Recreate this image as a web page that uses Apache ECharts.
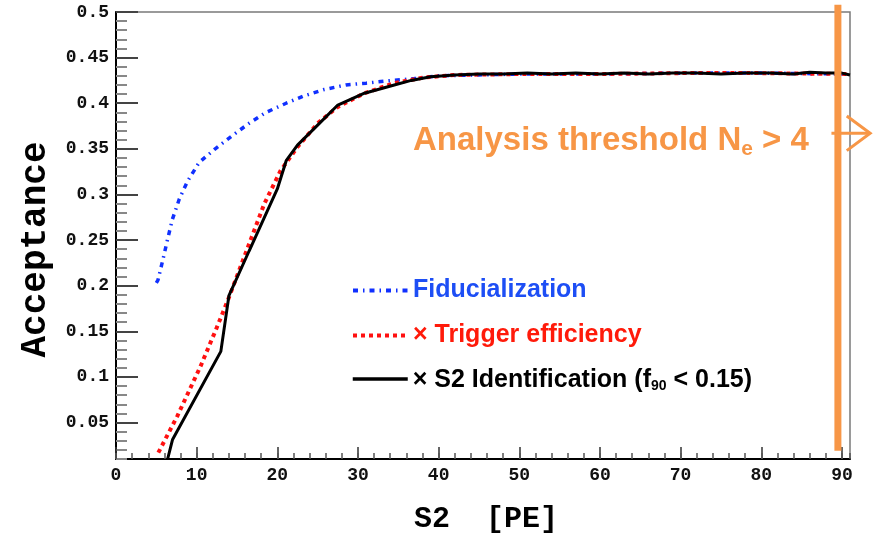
<!DOCTYPE html>
<html><head><meta charset="utf-8">
<script src="https://cdn.jsdelivr.net/npm/echarts@6/dist/echarts.min.js"></script>
<style>html,body{margin:0;padding:0;background:#fff}#c{width:873px;height:539px}</style>
</head><body><div id="c"></div>
<script>
// ---- data ----
const fiducialization = [[5.0,0.203],[5.2,0.206],[5.8,0.228],[6.4,0.251],[7.0,0.273],[7.85,0.295],[8.9,0.315],[10.3,0.335],[12.3,0.35],[14.5,0.365],[16.5,0.378],[18.6,0.39],[21.1,0.40],[23.3,0.408],[25.8,0.415],[28.5,0.42],[31,0.422],[33.7,0.4245],[37,0.427],[40,0.43],[45,0.431],[50,0.432],[60,0.432],[70,0.433],[80,0.433],[91,0.432]];
const triggerEfficiency = [[5.25,0.017],[7.6,0.057],[10.5,0.112],[12.4,0.152],[14.0,0.187],[16.0,0.234],[18.4,0.29],[20.4,0.326],[22.5,0.352],[25,0.378],[27.5,0.396],[30.8,0.411],[34.5,0.422],[38,0.428],[42,0.431],[50,0.432],[60,0.432],[70,0.433],[80,0.433],[91,0.432]];
const s2Identification = [[6.4,0.01],[7.0,0.031],[13.0,0.128],[14.0,0.189],[16.5,0.238],[20.0,0.306],[21.1,0.337],[22.5,0.354],[25,0.376],[27.5,0.398],[30.8,0.411],[34.5,0.42],[36.6,0.425],[39,0.429],[42,0.431],[45,0.432],[48,0.432],[51,0.433],[54,0.432],[57,0.433],[60,0.432],[63,0.433],[66,0.432],[69,0.433],[72,0.433],[75,0.432],[78,0.433],[81,0.433],[84,0.432],[86,0.434],[88,0.433],[90,0.433],[91,0.431]];
const thresholdLine = [[89.5,0.508],[89.5,0.019]];
const arrowShaft = [[88.7,0.367],[93.5,0.367]];
const arrowHead = [[90.6,0.386],[93.5,0.367],[90.6,0.348]];
const xMajorTicks = [0,10,20,30,40,50,60,70,80,90];
const yMajorTicks = [0.05,0.1,0.15,0.2,0.25,0.3,0.35,0.4,0.45,0.5];
const seriesNames = ['Fiducialization','× Trigger efficiency','× S2 Identification'];

const ORANGE = '#f79646';
const mono = 'Liberation Mono';
const sans = 'Liberation Sans';

const chart = echarts.init(document.getElementById('c'), null, {renderer:'canvas'});
const legendBase = {orient:'vertical', itemWidth:55, itemHeight:14, selectedMode:false,
  itemStyle:{opacity:0},
  textStyle:{fontSize:25, fontWeight:'bold', fontFamily:sans}};

function polyItem(points, width){
  return (params, api) => ({
    type:'polyline',
    shape:{points: points.map(p => api.coord(p))},
    style:{stroke:ORANGE, lineWidth:width, fill:null, lineJoin:'miter'}
  });
}

chart.setOption({
  animation:false,
  backgroundColor:'#fff',
  title:{
    text:'{a|Analysis threshold N}{s|e}{a| > 4}',
    left:408, top:116,
    textStyle:{rich:{
      a:{fontSize:33, fontWeight:'bold', fontFamily:sans, color:ORANGE, lineHeight:40},
      s:{fontSize:21, fontWeight:'bold', fontFamily:sans, color:ORANGE, lineHeight:22, padding:[16,0,0,0]}
    }}
  },
  legend:[
    Object.assign({}, legendBase, {data:[seriesNames[0]], left:346, top:273,
      lineStyle:{width:4, type:[5,5,1.5,5]},
      textStyle:Object.assign({}, legendBase.textStyle, {color:'#1d4ef5'})}),
    Object.assign({}, legendBase, {data:[seriesNames[1]], left:346, top:318,
      lineStyle:{width:4, type:[4,4]},
      textStyle:Object.assign({}, legendBase.textStyle, {color:'#ff1a0a'})}),
    Object.assign({}, legendBase, {data:[seriesNames[2]], left:346, top:363,
      lineStyle:{width:3.5},
      formatter: () => '{m|× S2 Identification (f}{s|90}{m| < 0.15)}',
      textStyle:{rich:{
        m:{fontSize:25, fontWeight:'bold', fontFamily:sans, color:'#000', lineHeight:28, verticalAlign:'bottom'},
        s:{fontSize:14, fontWeight:'bold', fontFamily:sans, color:'#000', lineHeight:10, verticalAlign:'bottom'}
      }}})
  ],
  grid:{left:116, right:23, top:12, bottom:80, show:true, borderColor:'#7a7a7a', borderWidth:1.5, containLabel:false},
  xAxis:[
    {type:'value', min:0, max:91, position:'bottom',
      name:'S2  [PE]', nameLocation:'middle', nameGap:45,
      nameTextStyle:{fontSize:30, fontWeight:'bold', fontFamily:mono, color:'#000', padding:[0,0,0,6]},
      axisLine:{show:true, onZero:false, lineStyle:{color:'#000', width:2}},
      axisTick:{show:true, inside:true, length:12, customValues:xMajorTicks, lineStyle:{color:'#333', width:1.5}},
      axisLabel:{show:true, customValues:xMajorTicks, margin:7, fontSize:18, fontWeight:'bold', fontFamily:mono, color:'#111'},
      splitLine:{show:false}},
    {type:'value', min:0, max:91, interval:2, position:'bottom',
      axisLine:{show:false}, axisLabel:{show:false}, splitLine:{show:false},
      axisTick:{show:true, inside:true, length:6, lineStyle:{color:'#555', width:1.5}}}
  ],
  yAxis:[
    {type:'value', min:0.01, max:0.5, interval:0.01, position:'left',
      axisLine:{show:true, onZero:false, lineStyle:{color:'#000', width:2}},
      axisTick:{show:true, inside:true, length:11, lineStyle:{color:'#888', width:2}},
      axisLabel:{show:false}, splitLine:{show:false}},
    {type:'value', min:0.01, max:0.5, position:'left',
      name:'Acceptance', nameLocation:'middle', nameGap:62, nameRotate:90,
      nameTextStyle:{fontSize:36, fontWeight:'bold', fontFamily:mono, color:'#000', padding:[0,28,0,0]},
      axisLine:{show:false},
      axisTick:{show:true, inside:true, length:22, customValues:yMajorTicks, lineStyle:{color:'#444', width:2}},
      axisLabel:{show:true, customValues:yMajorTicks, margin:7, fontSize:18, fontWeight:'bold', fontFamily:mono, color:'#111',
        formatter: v => String(+(+v).toFixed(2))},
      splitLine:{show:false}}
  ],
  series:[
    {name:seriesNames[0], type:'line', data:fiducialization, xAxisIndex:0, yAxisIndex:0, symbol:'none',
      lineStyle:{color:'#1030ff', width:3.5, type:[5,5,1.5,5]}, itemStyle:{color:'#1030ff'}, z:2},
    {name:seriesNames[1], type:'line', data:triggerEfficiency, xAxisIndex:0, yAxisIndex:0, symbol:'none',
      lineStyle:{color:'#ff1010', width:4, type:[4,4]}, itemStyle:{color:'#ff1010'}, z:3},
    {name:seriesNames[2], type:'line', data:s2Identification, xAxisIndex:0, yAxisIndex:0, symbol:'none',
      lineStyle:{color:'#000', width:3}, itemStyle:{color:'#000'}, z:4},
    {name:'threshold', type:'custom', data:[thresholdLine[0]], xAxisIndex:0, yAxisIndex:0, clip:false, silent:true,
      renderItem: polyItem(thresholdLine, 7), z:5},
    {name:'arrowShaft', type:'custom', data:[arrowShaft[0]], xAxisIndex:0, yAxisIndex:0, clip:false, silent:true,
      renderItem: polyItem(arrowShaft, 3), z:5},
    {name:'arrowHead', type:'custom', data:[arrowHead[0]], xAxisIndex:0, yAxisIndex:0, clip:false, silent:true,
      renderItem: polyItem(arrowHead, 3), z:5}
  ]
});
</script></body></html>
